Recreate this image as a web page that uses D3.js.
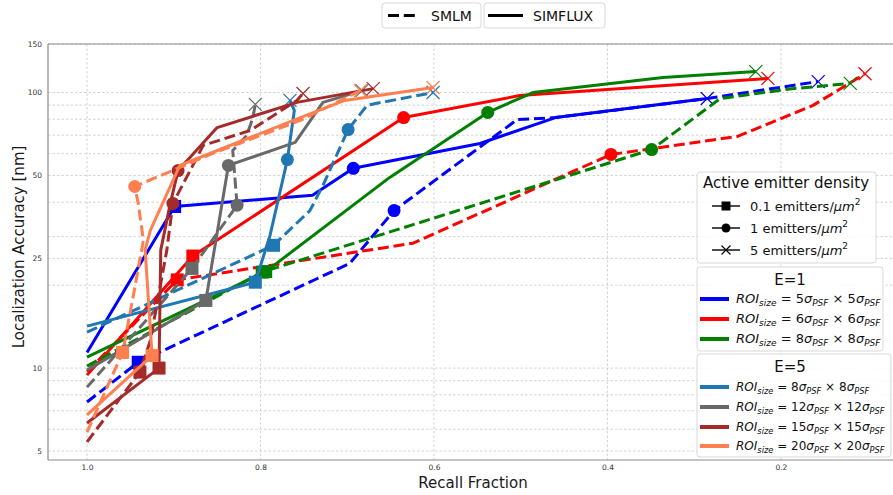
<!DOCTYPE html>
<html><head><meta charset="utf-8">
<script src="https://cdn.jsdelivr.net/npm/d3@7"></script>
<style>html,body{margin:0;padding:0;background:#fff;}svg{display:block;font-family:"DejaVu Sans",sans-serif;}</style>
</head><body><svg id="chart" width="893" height="495"></svg>
<script>
// ---------- data ----------
const xTicks = [1.0, 0.8, 0.6, 0.4, 0.2];
const yTickLabels = [5, 10, 25, 50, 100, 150];
const yGridValues = [5, 6, 7, 8, 9, 10, 20, 25, 30, 40, 50, 60, 70, 80, 90, 100, 150];
const densityLegend = ["0.1", "1", "5"];
const methodLegend = ["SMLM", "SIMFLUX"];

// density code per point: 0.1 -> square, 1 -> circle, 5 -> x, 0 -> no marker
// E=1, ROI 5
const recall_E1_R5_SMLM = [1.0, 0.941, 0.697, 0.646, 0.504, 0.46, 0.285, 0.157];
const acc_E1_R5_SMLM    = [7.53, 10.5, 24.0, 37.3, 79.8, 81.1, 95.1, 109.6];
const dens_E1_R5_SMLM   = [0, 0.1, 0, 1, 0, 0, 0, 5];
const recall_E1_R5_SIMFLUX = [1.0, 0.899, 0.74, 0.693, 0.547, 0.46, 0.285];
const acc_E1_R5_SIMFLUX    = [11.4, 38.6, 42.4, 53.1, 65.3, 81.1, 95.1];
const dens_E1_R5_SIMFLUX   = [0, 0.1, 0, 1, 0, 0, 5];
// E=1, ROI 6
const recall_E1_R6_SMLM = [1.0, 0.896, 0.624, 0.396, 0.25, 0.163, 0.103];
const acc_E1_R6_SMLM    = [9.7, 20.9, 28.4, 59.6, 69.3, 89.8, 117];
const dens_E1_R6_SMLM   = [0, 0.1, 0, 1, 0, 0, 5];
const recall_E1_R6_SIMFLUX = [1.0, 0.878, 0.635, 0.501, 0.215];
const acc_E1_R6_SIMFLUX    = [9.43, 25.5, 81.1, 97.5, 112.5];
const dens_E1_R6_SIMFLUX   = [0, 0.1, 1, 0, 5];
// E=1, ROI 8
const recall_E1_R8_SMLM = [1.0, 0.798, 0.349, 0.27, 0.19, 0.12];
const acc_E1_R8_SMLM    = [10.17, 22.3, 62.1, 95.1, 103, 107.9];
const dens_E1_R8_SMLM   = [0, 0.1, 1, 0, 0, 5];
const recall_E1_R8_SIMFLUX = [1.0, 0.794, 0.651, 0.538, 0.486, 0.336, 0.229];
const acc_E1_R8_SIMFLUX    = [10.96, 22.4, 49.2, 84.7, 100, 113.3, 119.1];
const dens_E1_R8_SIMFLUX   = [0, 0.1, 0, 1, 0, 0, 5];
// E=5, ROI 8
const recall_E5_R8_SMLM = [1.0, 0.785, 0.743, 0.728, 0.699, 0.677, 0.601];
const acc_E5_R8_SMLM    = [13.5, 27.9, 37.3, 46.0, 73.4, 90, 100];
const dens_E5_R8_SMLM   = [0, 0.1, 0, 0, 1, 0, 5];
const recall_E5_R8_SIMFLUX = [1.0, 0.806, 0.789, 0.769, 0.761, 0.766];
const acc_E5_R8_SIMFLUX    = [14.2, 20.5, 30.3, 57.1, 86.1, 93.6];
const dens_E5_R8_SIMFLUX   = [0, 0.1, 0, 1, 0, 5];
// E=5, ROI 12
const recall_E5_R12_SMLM = [1.0, 0.879, 0.827, 0.832, 0.816, 0.809, 0.806];
const acc_E5_R12_SMLM    = [8.53, 23.0, 39.0, 61.6, 69.8, 80.5, 90.6];
const dens_E5_R12_SMLM   = [0, 0.1, 1, 0, 0, 0, 5];
const recall_E5_R12_SIMFLUX = [1.0, 0.863, 0.837, 0.76, 0.728, 0.683];
const acc_E5_R12_SIMFLUX    = [9.83, 17.6, 54.4, 65.9, 92.1, 101.6];
const dens_E5_R12_SIMFLUX   = [0, 0.1, 1, 0, 0, 5];
// E=5, ROI 15
const recall_E5_R15_SMLM = [1.0, 0.939, 0.927, 0.908, 0.901, 0.866, 0.812, 0.758, 0.751];
const acc_E5_R15_SMLM    = [5.4, 9.67, 12.6, 26.8, 39.6, 64.3, 72.8, 93.6, 99.2];
const dens_E5_R15_SMLM   = [0, 0.1, 0, 0, 1, 0, 0, 0, 5];
const recall_E5_R15_SIMFLUX = [1.0, 0.917, 0.915, 0.904, 0.895, 0.85, 0.758, 0.670];
const acc_E5_R15_SIMFLUX    = [6.32, 10.0, 26.8, 39.6, 52.1, 74.6, 92.1, 103.3];
const dens_E5_R15_SIMFLUX   = [0, 0.1, 0, 0, 1, 0, 0, 5];
// E=5, ROI 20
const recall_E5_R20_SMLM = [1.0, 0.959, 0.945, 0.935, 0.941, 0.945, 0.893, 0.855, 0.754, 0.685];
const acc_E5_R20_SMLM    = [5.86, 11.4, 19.5, 29.1, 39.6, 45.6, 53.5, 60.1, 79.2, 101.6];
const dens_E5_R20_SMLM   = [0, 0.1, 0, 0, 0, 1, 0, 0, 0, 5];
const recall_E5_R20_SIMFLUX = [1.0, 0.925, 0.933, 0.927, 0.893, 0.870, 0.754, 0.703, 0.601];
const acc_E5_R20_SIMFLUX    = [6.76, 11.1, 26.8, 31.6, 54.4, 58.1, 81.1, 93.6, 104.3];
const dens_E5_R20_SIMFLUX   = [0, 0.1, 0, 0, 0, 0, 0, 0, 5];

const groupE1 = {title: "E=1", rois: [5, 6, 8], colors: ["#0000ff", "#ff0000", "#008000"]};
const groupE5 = {title: "E=5", rois: [8, 12, 15, 20], colors: ["#1f77b4", "#696969", "#a52a2a", "#ff7f50"]};

const series = [
  {c: "#0000ff", dash: true,  r: recall_E1_R5_SMLM,  a: acc_E1_R5_SMLM,  d: dens_E1_R5_SMLM},
  {c: "#0000ff", dash: false, r: recall_E1_R5_SIMFLUX, a: acc_E1_R5_SIMFLUX, d: dens_E1_R5_SIMFLUX},
  {c: "#ff0000", dash: true,  r: recall_E1_R6_SMLM,  a: acc_E1_R6_SMLM,  d: dens_E1_R6_SMLM},
  {c: "#ff0000", dash: false, r: recall_E1_R6_SIMFLUX, a: acc_E1_R6_SIMFLUX, d: dens_E1_R6_SIMFLUX},
  {c: "#008000", dash: true,  r: recall_E1_R8_SMLM,  a: acc_E1_R8_SMLM,  d: dens_E1_R8_SMLM},
  {c: "#008000", dash: false, r: recall_E1_R8_SIMFLUX, a: acc_E1_R8_SIMFLUX, d: dens_E1_R8_SIMFLUX},
  {c: "#1f77b4", dash: true,  r: recall_E5_R8_SMLM,  a: acc_E5_R8_SMLM,  d: dens_E5_R8_SMLM},
  {c: "#1f77b4", dash: false, r: recall_E5_R8_SIMFLUX, a: acc_E5_R8_SIMFLUX, d: dens_E5_R8_SIMFLUX},
  {c: "#696969", dash: true,  r: recall_E5_R12_SMLM, a: acc_E5_R12_SMLM, d: dens_E5_R12_SMLM},
  {c: "#696969", dash: false, r: recall_E5_R12_SIMFLUX, a: acc_E5_R12_SIMFLUX, d: dens_E5_R12_SIMFLUX},
  {c: "#a52a2a", dash: true,  r: recall_E5_R15_SMLM, a: acc_E5_R15_SMLM, d: dens_E5_R15_SMLM},
  {c: "#a52a2a", dash: false, r: recall_E5_R15_SIMFLUX, a: acc_E5_R15_SIMFLUX, d: dens_E5_R15_SIMFLUX},
  {c: "#ff7f50", dash: true,  r: recall_E5_R20_SMLM, a: acc_E5_R20_SMLM, d: dens_E5_R20_SMLM},
  {c: "#ff7f50", dash: false, r: recall_E5_R20_SIMFLUX, a: acc_E5_R20_SIMFLUX, d: dens_E5_R20_SIMFLUX}
];

// ---------- layout ----------
const L = 48, R = 898, T = 44, B = 460;
const svg = d3.select("#chart");
const x = d3.scaleLinear().domain([1.045, 0.065]).range([L, R]);
const y = d3.scaleLog().domain([4.64, 150]).range([B, T]);

svg.append("defs").append("clipPath").attr("id", "clip")
  .append("rect").attr("x", L).attr("y", T).attr("width", R - L).attr("height", B - T);

// grid
const grid = svg.append("g").attr("stroke", "#c8c8c8").attr("stroke-width", 0.8).attr("stroke-dasharray", "2.5,2");
grid.selectAll("line.h").data(yGridValues).join("line").attr("class", "h")
  .attr("x1", L).attr("x2", R).attr("y1", d => y(d)).attr("y2", d => y(d));
grid.selectAll("line.v").data(xTicks).join("line").attr("class", "v")
  .attr("y1", T).attr("y2", B).attr("x1", d => x(d)).attr("x2", d => x(d));

// axes
const xAxis = svg.append("g").attr("transform", `translate(0,${B})`)
  .call(d3.axisBottom(x).tickValues(xTicks).tickFormat(d3.format(".1f")).tickSize(0).tickPadding(5));
xAxis.select(".domain").remove();
xAxis.selectAll("text").attr("font-size", 7.5).attr("fill", "#333").attr("font-family", "DejaVu Sans");
const yAxis = svg.append("g").attr("transform", `translate(${L},0)`)
  .call(d3.axisLeft(y).tickValues(yTickLabels).tickFormat(d3.format("d")).tickSize(0).tickPadding(6));
yAxis.select(".domain").remove();
yAxis.selectAll("text").attr("font-size", 7.5).attr("fill", "#333").attr("font-family", "DejaVu Sans");

// spines
const sp = svg.append("g").attr("stroke", "#8c8c8c").attr("stroke-width", 1.2);
sp.append("line").attr("x1", L).attr("x2", L).attr("y1", T).attr("y2", B);
sp.append("line").attr("x1", L).attr("x2", R).attr("y1", B).attr("y2", B);
sp.append("line").attr("x1", L).attr("x2", R).attr("y1", T).attr("y2", T);

// axis labels
svg.append("text").attr("x", 473).attr("y", 488).attr("text-anchor", "middle")
  .attr("font-size", 15).attr("fill", "#1a1a1a").text("Recall Fraction");
svg.append("text").attr("transform", "translate(19,247) rotate(-90)").attr("text-anchor", "middle")
  .attr("dominant-baseline", "central").attr("font-size", 15).attr("fill", "#1a1a1a").text("Localization Accuracy [nm]");

// series
const plot = svg.append("g").attr("clip-path", "url(#clip)");
const line = d3.line().x(p => x(p[0])).y(p => y(p[1]));
function drawMarker(g, kind, cx, cy, color, s) {
  if (kind === 0.1) {
    g.append("rect").attr("x", cx - s / 2).attr("y", cy - s / 2).attr("width", s).attr("height", s).attr("fill", color);
  } else if (kind === 1) {
    g.append("circle").attr("cx", cx).attr("cy", cy).attr("r", s / 2).attr("fill", color);
  } else if (kind === 5) {
    const h = s / 2;
    g.append("path").attr("d", `M${cx - h},${cy - h}L${cx + h},${cy + h}M${cx - h},${cy + h}L${cx + h},${cy - h}`)
      .attr("stroke", color).attr("stroke-width", 1.2).attr("fill", "none");
  }
}
series.forEach(s => {
  const pts = s.r.map((rv, i) => [rv, s.a[i], s.d[i]]);
  const g = plot.append("g");
  g.append("path").datum(pts).attr("d", line).attr("fill", "none").attr("stroke", s.c)
    .attr("stroke-width", 3).attr("stroke-linejoin", "round")
    .attr("stroke-dasharray", s.dash ? "11,4.8" : null);
  pts.forEach(p => { if (p[2]) drawMarker(g, p[2], x(p[0]), y(p[1]), s.c, 13); });
});

// ---------- legends ----------
function box(x0, y0, w, h) {
  svg.append("rect").attr("x", x0).attr("y", y0).attr("width", w).attr("height", h).attr("rx", 3)
    .attr("fill", "#fff").attr("fill-opacity", 0.85).attr("stroke", "#d9d9d9").attr("stroke-width", 1);
}
// top legend
box(382, 3, 99, 25);
box(484, 3, 121, 25);
svg.append("line").attr("x1", 388).attr("x2", 418).attr("y1", 15.5).attr("y2", 15.5)
  .attr("stroke", "#000").attr("stroke-width", 3).attr("stroke-dasharray", "11,4.8");
svg.append("text").attr("x", 431).attr("y", 20.5).attr("font-size", 14).attr("fill", "#111").text(methodLegend[0]);
svg.append("line").attr("x1", 488).attr("x2", 523).attr("y1", 15.5).attr("y2", 15.5)
  .attr("stroke", "#000").attr("stroke-width", 3);
svg.append("text").attr("x", 533).attr("y", 20.5).attr("font-size", 14).attr("fill", "#111").text(methodLegend[1]);

// density legend
box(697, 172, 179, 91);
svg.append("text").attr("x", 786).attr("y", 188).attr("text-anchor", "middle").attr("font-size", 15)
  .attr("fill", "#111").text("Active emitter density");
const dY = [206, 228, 250], dKinds = [0.1, 1, 5];
densityLegend.forEach((lab, i) => {
  const g = svg.append("g");
  g.append("line").attr("x1", 712).attr("x2", 740).attr("y1", dY[i]).attr("y2", dY[i]).attr("stroke", "#000").attr("stroke-width", 1.4);
  drawMarker(g, dKinds[i], 726, dY[i], "#000", 9);
  const t = g.append("text").attr("x", 750).attr("y", dY[i] + 5).attr("font-size", 13).attr("fill", "#111");
  t.append("tspan").text(lab + " emitters/");
  t.append("tspan").attr("font-style", "italic").text("μm");
  t.append("tspan").attr("font-size", 9).attr("dy", -6).text("2");
});

function roiLabel(g, xx, yy, n, fs) {
  const sub = fs * 0.69;
  const t = g.append("text").attr("x", xx).attr("y", yy).attr("font-size", fs).attr("fill", "#111");
  t.append("tspan").attr("font-style", "italic").text("ROI");
  t.append("tspan").attr("font-style", "italic").attr("font-size", sub).attr("dy", 3).text("size");
  t.append("tspan").attr("dy", -3).text(" = " + n);
  t.append("tspan").attr("font-style", "italic").text("σ");
  t.append("tspan").attr("font-style", "italic").attr("font-size", sub).attr("dy", 3).text("PSF");
  t.append("tspan").attr("dy", -3).text(" × " + n);
  t.append("tspan").attr("font-style", "italic").text("σ");
  t.append("tspan").attr("font-style", "italic").attr("font-size", sub).attr("dy", 3).text("PSF");
}
function groupLegend(grp, y0, h, w, rowYs, fs) {
  box(697, y0, w, h);
  svg.append("text").attr("x", 790).attr("y", y0 + 18).attr("text-anchor", "middle").attr("font-size", 15)
    .attr("fill", "#111").text(grp.title);
  grp.rois.forEach((n, i) => {
    const g = svg.append("g");
    g.append("line").attr("x1", 700).attr("x2", 729).attr("y1", rowYs[i]).attr("y2", rowYs[i])
      .attr("stroke", grp.colors[i]).attr("stroke-width", 4);
    roiLabel(g, 736, rowYs[i] + 4, n, fs);
  });
}
groupLegend(groupE1, 267, 84, 186, [299, 319, 339], 13);
groupLegend(groupE5, 354, 103, 194, [387, 407, 427, 446], 12);
</script></body></html>
